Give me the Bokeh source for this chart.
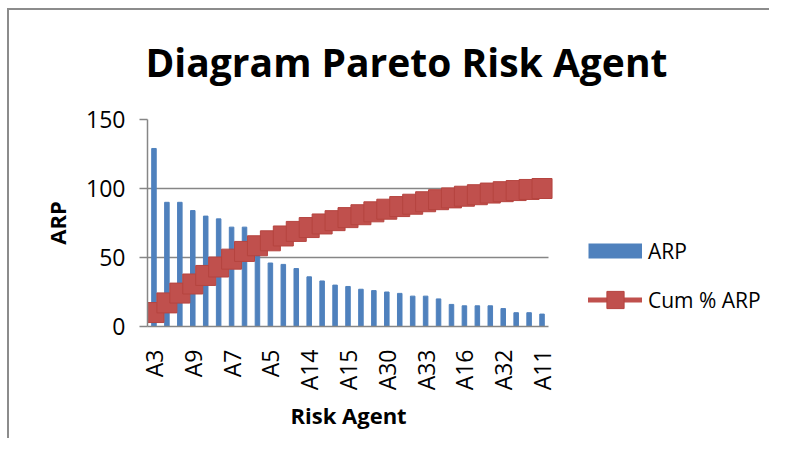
from bokeh.plotting import figure
from bokeh.models import FixedTicker, Legend, LegendItem, Range1d, Title
from bokeh.embed import file_html
from bokeh.resources import INLINE

# ---- data ----
categories = ["A3", "A1", "A8", "A9", "A2", "A6", "A7", "A4", "A10", "A5",
              "A12", "A13", "A14", "A17", "A18", "A15", "A19", "A20", "A30", "A21",
              "A22", "A33", "A23", "A24", "A16", "A25", "A26", "A32", "A27", "A28", "A11"]
arp = [129, 90, 90, 84, 80, 78, 72, 72, 52, 46,
       45, 42, 36, 33, 30, 29, 27, 26, 25, 24,
       22, 22, 20, 16, 15, 15, 15, 13, 10, 10, 9]
cum_pct = [10.1, 17.1, 24.2, 30.8, 37.0, 43.1, 48.8, 54.4, 58.5, 62.1,
           65.6, 68.9, 71.7, 74.3, 76.7, 78.9, 81.0, 83.1, 85.0, 86.9,
           88.6, 90.4, 91.9, 93.2, 94.4, 95.5, 96.7, 97.7, 98.5, 99.3, 100.0]
y_ticks = [0, 50, 100, 150]
shown_every = 3

n = len(categories)
x = list(range(n))
FONT = "Open Sans"
GRID = "#868686"
BLUE = "#4F81BD"
RED = "#C0504D"

W, H = 769, 438
ML, MR, MT, MB = 147, 4, 119, 112
cat_px = 401.0 / n          # pixel width of one category slot
frame_w = W - ML - MR
x_end = -0.5 + frame_w / cat_px   # frame extends right to hold the legend

p = figure(width=W, height=H, output_backend="svg", toolbar_location=None,
           x_range=Range1d(-0.5, x_end), y_range=Range1d(0, 150),
           min_border_left=ML, min_border_right=MR, min_border_top=MT, min_border_bottom=MB,
           styles={"background": "linear-gradient(#8c8c8c,#8c8c8c) 7px 8px / 2px 100% no-repeat, "
                                 "linear-gradient(#8c8c8c,#8c8c8c) 7px 8px / 100% 2px no-repeat"})
p.outline_line_color = None
p.border_fill_alpha = 0
p.background_fill_color = "white"

p.title.text = "Diagram Pareto Risk Agent"
p.title.text_font = FONT
p.title.text_font_size = "39px"
p.title.text_font_style = "bold"
p.title.text_color = "black"
p.title.align = "left"
p.title.offset = -2
p.title.standoff = 63

bars = p.vbar(x=x, top=arp, width=0.35, color=BLUE)
ln = p.line(x, cum_pct, line_width=5, color=RED, line_cap="round")
pts = p.scatter(x, cum_pct, marker="square", size=20, fill_color=RED, line_color="#B5443F", line_width=1)
# legend swatch for the bar series (legend only, draws nothing)
swatch = p.line(x=[0], y=[float("nan")], line_width=15, color=BLUE, line_cap="butt")

# grid
p.xgrid.grid_line_color = None
p.ygrid.grid_line_color = GRID
p.ygrid.grid_line_width = 1.5
p.ygrid.ticker = FixedTicker(ticks=y_ticks)
p.ygrid.cross_bounds = (-0.5, n - 0.5)

# y axis
p.yaxis.ticker = FixedTicker(ticks=y_ticks)
p.yaxis.axis_label = "ARP"
p.yaxis.axis_label_text_font = FONT
p.yaxis.axis_label_text_font_size = "22px"
p.yaxis.axis_label_text_font_style = "bold"
p.yaxis.axis_label_text_color = "black"
p.yaxis.axis_label_standoff = 11
p.yaxis.major_label_text_font = FONT
p.yaxis.major_label_text_font_size = "23px"
p.yaxis.major_label_text_color = "black"
p.yaxis.major_label_standoff = 14
p.yaxis.axis_line_color = GRID
p.yaxis.axis_line_width = 1.5
p.yaxis.major_tick_line_color = GRID
p.yaxis.major_tick_line_width = 1.5
p.yaxis.major_tick_out = 8
p.yaxis.major_tick_in = 0
p.yaxis.minor_tick_line_color = None

# x axis
tick_idx = x[::shown_every]
p.xaxis.bounds = (-0.5, n - 0.5)
p.xaxis.ticker = FixedTicker(ticks=tick_idx)
p.xaxis.major_label_overrides = {i: categories[i] for i in tick_idx}
p.xaxis.major_label_orientation = 3.14159265 / 2
p.xaxis.major_label_text_font = FONT
p.xaxis.major_label_text_font_size = "23px"
p.xaxis.major_label_text_color = "black"
p.xaxis.major_label_standoff = 17
p.xaxis.axis_line_color = GRID
p.xaxis.axis_line_width = 1.5
p.xaxis.major_tick_line_color = None
p.xaxis.minor_tick_line_color = None

# x axis title, centred under the category slots
x_title = Title(text="Risk Agent", align="left", offset=143, standoff=8,
                text_font=FONT, text_font_size="22px", text_font_style="bold", text_color="black")
p.add_layout(x_title, "below")

legend = Legend(items=[LegendItem(label="ARP", renderers=[swatch]),
                       LegendItem(label="Cum % ARP", renderers=[ln, pts])],
                location=(441, 5), glyph_width=54, glyph_height=43, label_height=43,
                label_text_font=FONT, label_text_font_size="21px", label_text_color="black",
                label_standoff=6, padding=0, margin=0, spacing=6, border_line_color=None,
                background_fill_alpha=0)
p.add_layout(legend)

open("out.html", "w").write(file_html(p, INLINE))
